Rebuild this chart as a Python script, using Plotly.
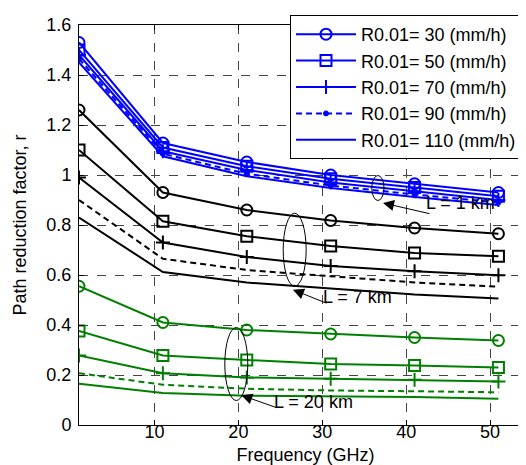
import plotly.graph_objects as go

freq = [1, 11, 21, 31, 41, 51]
rain_rates = [30, 50, 70, 90, 110]

# L = 1 km (blue)
r_L1 = [
    [1.53, 1.128, 1.052, 1.00, 0.965, 0.93],
    [1.50, 1.11, 1.035, 0.985, 0.95, 0.915],
    [1.48, 1.095, 1.02, 0.97, 0.935, 0.90],
    [1.465, 1.085, 1.005, 0.958, 0.922, 0.89],
    [1.45, 1.075, 0.995, 0.948, 0.912, 0.88],
]
# L = 7 km (black)
r_L7 = [
    [1.26, 0.93, 0.86, 0.818, 0.788, 0.765],
    [1.10, 0.815, 0.755, 0.716, 0.688, 0.675],
    [0.99, 0.73, 0.672, 0.636, 0.615, 0.599],
    [0.90, 0.665, 0.62, 0.596, 0.57, 0.553],
    [0.83, 0.612, 0.57, 0.546, 0.522, 0.506],
]
# L = 20 km (green)
r_L20 = [
    [0.555, 0.41, 0.38, 0.364, 0.35, 0.338],
    [0.376, 0.278, 0.26, 0.244, 0.238, 0.23],
    [0.278, 0.207, 0.19, 0.185, 0.181, 0.174],
    [0.207, 0.161, 0.145, 0.138, 0.135, 0.131],
    [0.165, 0.128, 0.117, 0.114, 0.112, 0.105],
]

x_ticks = [10, 20, 30, 40, 50]
y_ticks = [0, 0.2, 0.4, 0.6, 0.8, 1.0, 1.2, 1.4, 1.6]
y_tick_labels = ["0", "0.2", "0.4", "0.6", "0.8", "1", "1.2", "1.4", "1.6"]

styles = [
    dict(symbol="circle-open", size=11, lw=2, dash="solid", mode="lines+markers"),
    dict(symbol="square-open", size=11, lw=2, dash="solid", mode="lines+markers"),
    dict(symbol="cross-thin-open", size=10, lw=2, dash="solid", mode="lines+markers"),
    dict(symbol="circle", size=5, lw=1, dash="6px,4px", mode="lines"),
    dict(symbol="circle", size=1, lw=1, dash="solid", mode="lines"),
]

FONT = "Arial, Liberation Sans, sans-serif"
FS = 18
fig = go.Figure()

for data, color, show in [(r_L20, "#008000", False), (r_L7, "#000000", False), (r_L1, "#0000FF", True)]:
    for i, (vals, st) in enumerate(zip(data, styles)):
        mode = st["mode"]
        if show and i == 3:
            mode = "lines+markers"
        fig.add_trace(go.Scatter(
            x=freq, y=vals, mode=mode,
            name=f"R0.01= {rain_rates[i]} (mm/h)\u00a0\u00a0",
            legendgroup=f"g{i}",
            showlegend=show,
            line=dict(color=color, width=2, dash=st["dash"]),
            marker=dict(symbol=st["symbol"], size=st["size"], color=color,
                        line=dict(color=color, width=st["lw"])),
        ))

# ellipses
for (x0, x1, y0, y1) in [(35.9, 37.36, 0.898, 0.998), (25.34, 28.08, 0.555, 0.847), (18.38, 21.12, 0.098, 0.39)]:
    fig.add_shape(type="circle", xref="x", yref="y", x0=x0, x1=x1, y0=y0, y1=y1,
                  line=dict(color="black", width=1))

# arrows and labels
for (hx, hy, ax, ay, tx, ty, txt) in [
    (37.24, 0.888, 48, 11, 42.25, 0.89, "L = 1 km"),
    (26.5, 0.541, 35, 14, 29.95, 0.512, "L = 7 km"),
    (20.35, 0.119, 37, 13, 24.1, 0.094, "L = 20 km"),
]:
    fig.add_annotation(x=hx, y=hy, xref="x", yref="y", ax=ax, ay=ay, text="",
                       showarrow=True, arrowhead=2, arrowsize=2.2, arrowwidth=1, arrowcolor="black")
    fig.add_annotation(x=tx, y=ty, xref="x", yref="y", text=txt, showarrow=False,
                       xanchor="left", yanchor="middle", font=dict(size=FS, color="black", family=FONT),
                       borderpad=0)

axis_common = dict(showline=True, linecolor="black", linewidth=1, mirror="allticks",
                   ticks="inside", ticklen=5, tickcolor="black",
                   showgrid=True, gridcolor="#444444", gridwidth=1, griddash="dash",
                   zeroline=False, tickfont=dict(size=FS, color="black", family=FONT))

fig.update_xaxes(range=[1, 55], tickvals=x_ticks,
                 title=dict(text="Frequency (GHz)", font=dict(size=FS, color="black", family=FONT), standoff=7),
                 ticklabelstandoff=-10, **axis_common)
fig.update_yaxes(range=[0, 1.6], tickvals=y_ticks, ticktext=y_tick_labels,
                 title=dict(text="Path reduction factor, r", font=dict(size=FS, color="black", family=FONT), standoff=15),
                 ticklabelstandoff=3, **axis_common)

fig.update_layout(
    width=526, height=465,
    margin=dict(l=71, r=2, t=17, b=48),
    plot_bgcolor="white", paper_bgcolor="white",
    font=dict(family=FONT, color="black"),
    legend=dict(x=1, y=1.025, xanchor="right", yanchor="top", bgcolor="white",
                bordercolor="black", borderwidth=1, font=dict(size=FS, family=FONT),
                tracegroupgap=0, itemwidth=60),
)

fig.write_html("out.html")
